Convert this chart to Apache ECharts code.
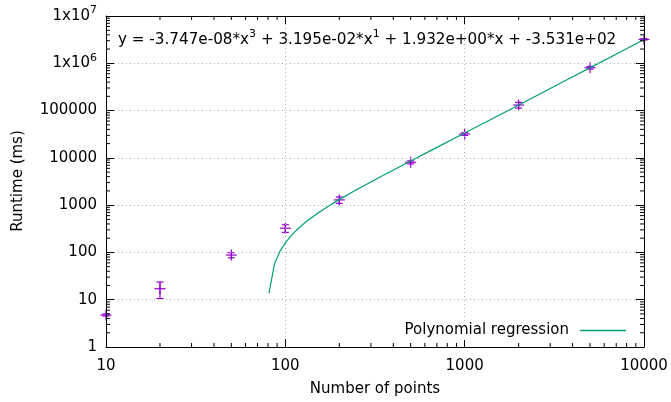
<!DOCTYPE html>
<html><head><meta charset="utf-8">
<script src="https://cdn.jsdelivr.net/npm/echarts@6/dist/echarts.min.js"></script>
<style>html,body{margin:0;padding:0;background:#fff}#c{width:671px;height:402px}</style>
</head><body><div id="c"></div>
<script>
// measured data (number of points vs runtime in ms)
const sizes = [10, 20, 50, 100, 200, 500, 1000, 2000, 5000, 10000];
const runtimeMean = [4.75, 17.1, 88, 325, 1290, 8050, 31900, 131000, 805000, 3210000];
const runtimeErr = [0.25, 6.5, 11, 60, 200, 600, 2000, 18000, 50000, 100000];

// polynomial regression curve as drawn (sampled points)
const fitX = [81.1, 86.9, 93.3, 100, 107.2, 115.0, 123.3, 132.2, 141.7, 152.0, 162.9, 174.8, 187.4, 200.9, 247.7, 327.5, 464.2, 658, 1000, 1322, 1874, 2656, 3765, 5337, 7565, 10000];
const fitY = [13.7, 56.1, 105.3, 159.6, 221.1, 291.5, 370.7, 460.6, 562.1, 678.7, 809.2, 960.6, 1130.8, 1324, 2085, 3705, 7425, 14741, 33491, 57953, 115225, 229462, 457819, 914312, 1826515, 3176497];

const seriesName = 'Polynomial regression';
const xTitle = 'Number of points';
const yTitle = 'Runtime (ms)';
const xTickLabels = ['10', '100', '1000', '10000'];
const yTickLabels = ['1', '10', '100', '1000', '10000', '100000', '{m|1x10}{s|6}', '{m|1x10}{s|7}'];
const equationParts = ['y = -3.747e-08*x', '3', ' + 3.195e-02*x', '1', ' + 1.932e+00*x + -3.531e+02'];

const minorMantissas = [2, 3, 4, 5, 6, 7, 8, 9];
const xDecades = [10, 100, 1000];
const yDecades = [1, 10, 100, 1000, 10000, 100000, 1000000];

const PURPLE = '#9400d3';
const GREEN = '#009e73';
const FONT = 'DejaVu Sans';
const FS = 15;

const xMinor = [];
xDecades.forEach(d => minorMantissas.forEach(m => xMinor.push(m * d)));
const yMinor = [];
yDecades.forEach(d => minorMantissas.forEach(m => yMinor.push(m * d)));

const chart = echarts.init(document.getElementById('c'), null, {renderer: 'canvas'});

function lg(v) { return Math.round(Math.log10(v)); }

const errData = sizes.map((s, i) => [s, runtimeMean[i], runtimeMean[i] - runtimeErr[i], runtimeMean[i] + runtimeErr[i]]);

const axisCommon = {
  type: 'log', logBase: 10,
  axisLine: {show: true, lineStyle: {color: '#000', width: 1}},
  axisTick: {show: true, inside: true, length: 8, lineStyle: {color: '#000', width: 1}},
  minorTick: {show: false}
};

const option = {
  animation: false,
  backgroundColor: '#fff',
  textStyle: {fontFamily: FONT},
  grid: {left: 106, right: 27, top: 16, bottom: 55, containLabel: false},
  legend: {
    data: [seriesName],
    right: 41, top: 321,
    align: 'right',
    padding: [2, 4, 2, 4],
    backgroundColor: '#fff',
    icon: 'rect',
    itemWidth: 46, itemHeight: 1.5,
    textStyle: {fontFamily: FONT, fontSize: FS, color: '#000', padding: [0, 6, 0, 0]}
  },
  xAxis: [
    Object.assign({}, axisCommon, {
      position: 'bottom', min: 10, max: 10000, splitNumber: 3, z: 3,
      axisLabel: {show: true, margin: 12, color: '#000', fontFamily: FONT, fontSize: FS,
        formatter: v => xTickLabels[lg(v) - 1]},
      splitLine: {show: true, lineStyle: {color: '#b0b0b0', width: 1, type: [1, 3]}}
    }),
    Object.assign({}, axisCommon, {
      position: 'top', min: 10, max: 10000, splitNumber: 3, z: 3,
      axisLabel: {show: false}, splitLine: {show: false}
    })
  ],
  yAxis: [
    Object.assign({}, axisCommon, {
      position: 'left', min: 1, max: 10000000, splitNumber: 5, z: 3,
      axisLabel: {show: true, margin: 9, color: '#000', fontFamily: FONT, fontSize: FS,
        formatter: v => yTickLabels[lg(v)],
        rich: {
          m: {fontSize: FS, fontFamily: FONT, color: '#000', lineHeight: 22, verticalAlign: 'middle'},
          s: {fontSize: 11, fontFamily: FONT, color: '#000', lineHeight: 12, verticalAlign: 'top'}
        }
      },
      splitLine: {show: true, lineStyle: {color: '#b0b0b0', width: 1, type: [1, 3]}}
    }),
    Object.assign({}, axisCommon, {
      position: 'right', min: 1, max: 10000000, splitNumber: 5, z: 3,
      axisLabel: {show: false}, splitLine: {show: false}
    })
  ],
  graphic: [
    {type: 'text', x: 18, y: 181, rotation: Math.PI / 2,
      style: {text: yTitle, font: FS + 'px "DejaVu Sans"', fill: '#000', align: 'center', verticalAlign: 'middle'}},
    {type: 'text', x: 375, y: 389,
      style: {text: xTitle, font: FS + 'px "DejaVu Sans"', fill: '#000', align: 'center', verticalAlign: 'middle'}},
    {type: 'text', x: 118, y: 40,
      style: {
        text: '{n|' + equationParts[0] + '}{s|' + equationParts[1] + '}{n|' + equationParts[2] + '}{s|' + equationParts[3] + '}{n|' + equationParts[4] + '}',
        font: '15.2px "DejaVu Sans"', fill: '#000', align: 'left', verticalAlign: 'middle',
        rich: {
          n: {font: '15.2px "DejaVu Sans"', fill: '#000', verticalAlign: 'middle', lineHeight: 22},
          s: {font: '11px "DejaVu Sans"', fill: '#000', verticalAlign: 'top', lineHeight: 12}
        }
      }}
  ],
  series: [
    {
      name: 'minorX', type: 'custom', silent: true, clip: false, z: 4,
      data: xMinor.map(v => [v, 1]),
      renderItem: function (params, api) {
        const cs = params.coordSys;
        const px = api.coord([api.value(0), 1])[0];
        const st = {stroke: '#000', lineWidth: 1};
        return {type: 'group', children: [
          {type: 'line', shape: {x1: px, y1: cs.y + cs.height, x2: px, y2: cs.y + cs.height - 4}, style: st},
          {type: 'line', shape: {x1: px, y1: cs.y, x2: px, y2: cs.y + 4}, style: st}
        ]};
      }
    },
    {
      name: 'minorY', type: 'custom', silent: true, clip: false, z: 4,
      data: yMinor.map(v => [10, v]),
      renderItem: function (params, api) {
        const cs = params.coordSys;
        const py = api.coord([10, api.value(1)])[1];
        const st = {stroke: '#000', lineWidth: 1};
        return {type: 'group', children: [
          {type: 'line', shape: {x1: cs.x, y1: py, x2: cs.x + 4, y2: py}, style: st},
          {type: 'line', shape: {x1: cs.x + cs.width, y1: py, x2: cs.x + cs.width - 4, y2: py}, style: st}
        ]};
      }
    },
    {
      name: 'measurements', type: 'custom', clip: false, z: 2,
      data: errData,
      encode: {x: 0, y: 1},
      renderItem: function (params, api) {
        const x = api.value(0), y = api.value(1), lo = api.value(2), hi = api.value(3);
        const p = api.coord([x, y]);
        const pl = api.coord([x, lo]);
        const ph = api.coord([x, hi]);
        const st = {stroke: PURPLE, lineWidth: 1.2};
        const cw = 3.5, m = 5.5;
        return {type: 'group', children: [
          {type: 'line', shape: {x1: p[0], y1: pl[1], x2: p[0], y2: ph[1]}, style: st},
          {type: 'line', shape: {x1: p[0] - cw, y1: pl[1], x2: p[0] + cw, y2: pl[1]}, style: st},
          {type: 'line', shape: {x1: p[0] - cw, y1: ph[1], x2: p[0] + cw, y2: ph[1]}, style: st},
          {type: 'line', shape: {x1: p[0] - m, y1: p[1], x2: p[0] + m, y2: p[1]}, style: st},
          {type: 'line', shape: {x1: p[0], y1: p[1] - m, x2: p[0], y2: p[1] + m}, style: st}
        ]};
      }
    },
    {
      name: seriesName, type: 'line', z: 2,
      data: fitX.map((x, i) => [x, fitY[i]]),
      showSymbol: false, symbol: 'none', smooth: false, clip: true,
      lineStyle: {color: GREEN, width: 1.2},
      itemStyle: {color: GREEN}
    }
  ]
};
chart.setOption(option);
</script>
</body></html>
